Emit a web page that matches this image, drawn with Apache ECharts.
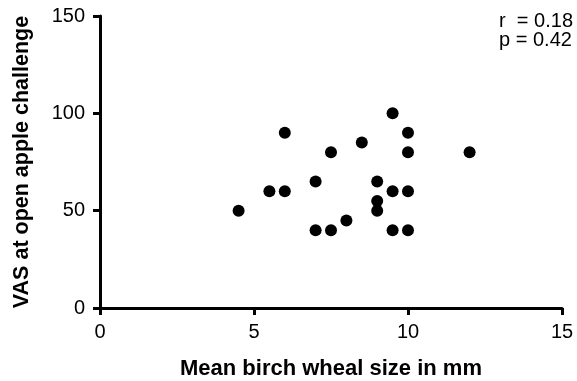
<!DOCTYPE html>
<html>
<head>
<meta charset="utf-8">
<script src="https://cdn.jsdelivr.net/npm/echarts@6/dist/echarts.min.js"></script>
<style>html,body{margin:0;padding:0;background:#fff}#c{width:577px;height:381px}</style>
</head>
<body>
<div id="c"></div>
<script>
var xValues = [4.5, 5.5, 6, 6, 7, 7, 7.5, 7.5, 8, 8.5, 9, 9, 9, 9.5, 9.5, 9.5, 10, 10, 10, 10, 12];
var yValues = [50, 60, 60, 90, 65, 40, 80, 40, 45, 85, 65, 55, 50, 100, 60, 40, 90, 80, 60, 40, 80];
var xTitle = 'Mean birch wheal size in mm';
var yTitle = 'VAS at open apple challenge';
var statsLines = ['r  = 0.18', 'p = 0.42'];

var points = xValues.map(function (x, i) { return [x, yValues[i]]; });
var font = 'Liberation Sans, Arial, sans-serif';
var chart = echarts.init(document.getElementById('c'), null, {renderer: 'canvas'});
chart.setOption({
  animation: false,
  grid: {left: 100, right: 15, top: 16, bottom: 73, containLabel: false, outerBoundsMode: 'none'},
  xAxis: {
    type: 'value', min: 0, max: 15, interval: 5,
    name: xTitle, nameLocation: 'middle', nameGap: 50,
    nameTextStyle: {fontFamily: font, fontSize: 22, fontWeight: 'bold', color: '#000'},
    axisLine: {show: true, onZero: false, lineStyle: {color: '#000', width: 3}},
    axisTick: {show: true, length: 7, lineStyle: {color: '#000', width: 3}},
    axisLabel: {fontFamily: font, fontSize: 20, color: '#000', margin: 14},
    splitLine: {show: false}
  },
  yAxis: {
    type: 'value', min: 0, max: 150, interval: 50,
    name: yTitle, nameLocation: 'middle', nameGap: 67, nameRotate: 90,
    nameTextStyle: {fontFamily: font, fontSize: 21.5, fontWeight: 'bold', color: '#000'},
    axisLine: {show: true, onZero: false, lineStyle: {color: '#000', width: 3}},
    axisTick: {show: true, length: 7, lineStyle: {color: '#000', width: 3}},
    axisLabel: {fontFamily: font, fontSize: 20, color: '#000', margin: 15},
    splitLine: {show: false}
  },
  graphic: [{
    type: 'text', right: 4, top: 11,
    style: {text: statsLines.join('\n'), font: '20px ' + font, fill: '#000', lineHeight: 19.5, textAlign: 'left'}
  }],
  series: [{
    type: 'scatter', data: points, symbol: 'circle', symbolSize: 12,
    itemStyle: {color: '#000', opacity: 1}
  }]
});
</script>
</body>
</html>
